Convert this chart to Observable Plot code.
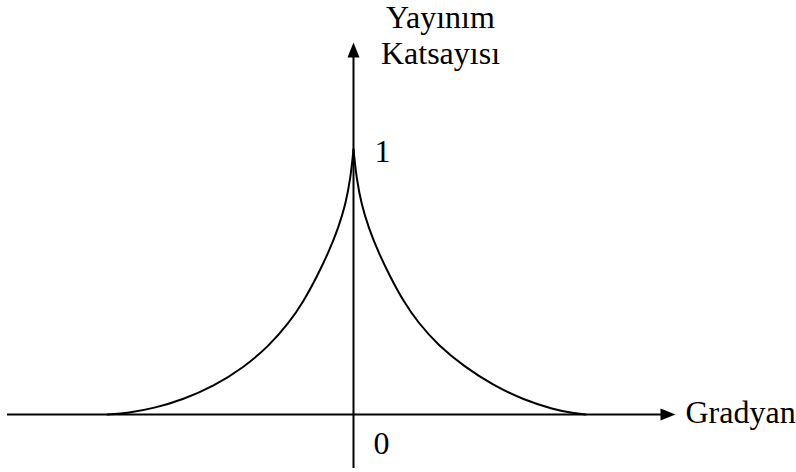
<!DOCTYPE html>
<html>
<head>
<meta charset="utf-8">
<script src="https://cdn.jsdelivr.net/npm/d3@7"></script>
<script src="https://cdn.jsdelivr.net/npm/@observablehq/plot@0.6"></script>
<style>
  html, body { margin: 0; padding: 0; background: #fff; }
  #chart svg { display: block; }
  #chart svg text { font-family: "Liberation Serif"; }
</style>
</head>
<body>
<div id="chart"></div>
<script>
// Gradient (x) in arbitrary units, diffusion coefficient (y) normalized to 1 at the peak
const leftX  = [-2.46, -2.25, -2.00, -1.70, -1.40, -1.10, -0.85, -0.65, -0.50, -0.36, -0.25, -0.15, -0.08, -0.03, 0];
const leftY  = [0, 0.006, 0.023, 0.057, 0.106, 0.177, 0.257, 0.343, 0.426, 0.525, 0.611, 0.706, 0.792, 0.891, 1];
const rightX = [0, 0.03, 0.08, 0.15, 0.25, 0.36, 0.50, 0.65, 0.85, 1.10, 1.40, 1.70, 2.00, 2.20, 2.32];
const rightY = [1, 0.891, 0.792, 0.706, 0.611, 0.525, 0.426, 0.345, 0.260, 0.183, 0.109, 0.056, 0.019, 0.005, 0];

const xAxisExtent = [-3.46, 3.22];   // horizontal axis (Gradyan)
const yAxisExtent = [-0.204, 1.404]; // vertical axis (Yayınım Katsayısı)

const xLabel = "Gradyan";
const yLabel = "Yayınım\nKatsayısı";
const tickZero = "0";
const tickOne = "1";

const curve = [
  ...leftX.map((x, i) => ({side: "left", x, y: leftY[i]})),
  ...rightX.map((x, i) => ({side: "right", x, y: rightY[i]}))
];

// filled arrowhead with its tip at the symbol origin, pointing right
const arrowHead = {
  draw(context) {
    context.moveTo(0, 0);
    context.lineTo(-15, -6);
    context.lineTo(-15, 6);
    context.closePath();
  }
};

const font = "Liberation Serif";
const textStyle = {fontSize: 32, fill: "#000", fontFamily: font};

const chart = Plot.plot({
  width: 796,
  height: 472,
  margin: 0,
  style: {background: "#fff", fontFamily: font},
  x: {domain: [-3.53, 4.43], range: [0, 796], axis: null},
  y: {domain: [-0.2189, 1.5623], range: [472, 0], axis: null},
  marks: [
    // axes
    Plot.ruleY([0], {x1: xAxisExtent[0], x2: xAxisExtent[1] - 0.1, stroke: "#000", strokeWidth: 2}),
    Plot.ruleX([0], {y1: yAxisExtent[0], y2: yAxisExtent[1] - 0.04, stroke: "#000", strokeWidth: 2}),
    Plot.dot([0], {x: xAxisExtent[1], y: 0, symbol: arrowHead, fill: "#000", stroke: "none"}),
    Plot.dot([0], {x: 0, y: yAxisExtent[1], symbol: arrowHead, rotate: -90, fill: "#000", stroke: "none"}),
    // curve
    Plot.line(curve, {x: "x", y: "y", z: "side", curve: "basis", stroke: "#000", strokeWidth: 2}),
    // labels
    Plot.text([xLabel], {x: xAxisExtent[1], y: 0, text: d => d, textAnchor: "start", dx: 10, dy: -2, ...textStyle}),
    Plot.text([yLabel], {x: 0, y: yAxisExtent[1], text: d => d, textAnchor: "middle", lineAnchor: "bottom", lineHeight: 1.14, dx: 87, dy: 22, ...textStyle}),
    Plot.text([tickOne], {x: 0, y: 1, text: d => d, textAnchor: "start", dx: 21, dy: 2, ...textStyle}),
    Plot.text([tickZero], {x: 0, y: 0, text: d => d, textAnchor: "start", dx: 20, dy: 29, ...textStyle})
  ]
});

document.getElementById("chart").appendChild(chart);
</script>
</body>
</html>
